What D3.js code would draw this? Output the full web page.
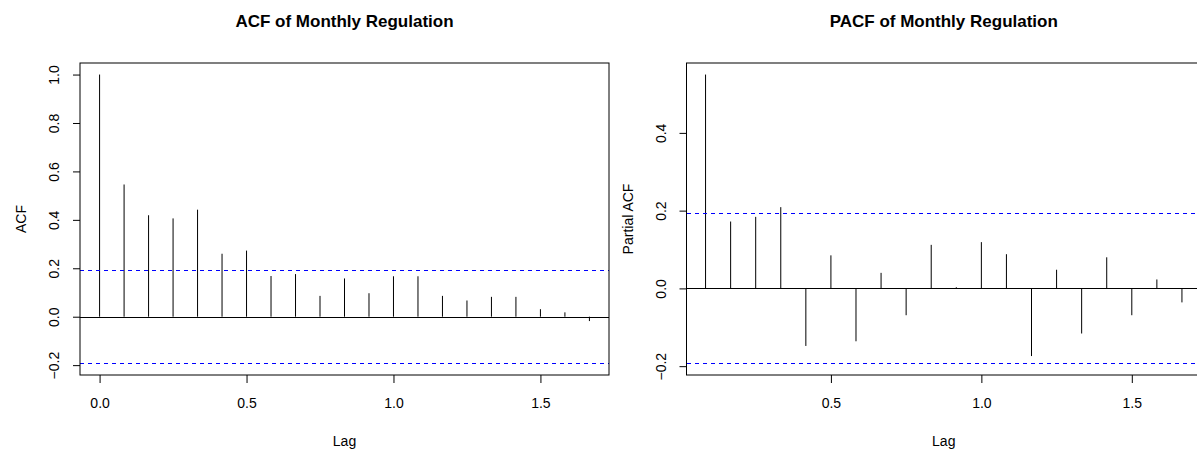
<!DOCTYPE html>
<html>
<head>
<meta charset="utf-8">
<script src="https://cdn.jsdelivr.net/npm/d3@7/dist/d3.min.js"></script>
<style>
  html, body { margin: 0; padding: 0; background: #fff; }
  svg { display: block; font-family: "Liberation Sans", Arial, sans-serif; }
</style>
</head>
<body>
<svg id="chart" width="1197" height="450"></svg>
<script>
// Monthly regulation series: sample autocorrelations, lags in years (frequency 12)
const acfLags = d3.range(0, 21).map(k => k / 12);
const acfValues = [1.000, 0.546, 0.419, 0.406, 0.442, 0.260, 0.273, 0.168, 0.176, 0.086,
                   0.158, 0.097, 0.167, 0.167, 0.086, 0.067, 0.082, 0.082, 0.031, 0.018, -0.018];

const pacfLags = d3.range(1, 21).map(k => k / 12);
const pacfValues = [0.550, 0.172, 0.184, 0.209, -0.148, 0.085, -0.136, 0.040, -0.069, 0.112,
                    0.003, 0.119, 0.088, -0.174, 0.048, -0.116, 0.080, -0.069, 0.023, -0.036];

// 95% confidence bound, +/- 1.96/sqrt(n)
const confBound = 0.193;

const acfYTicks = [-0.2, 0.0, 0.2, 0.4, 0.6, 0.8, 1.0];
const pacfYTicks = [-0.2, 0.0, 0.2, 0.4];
const acfXTicks = [0.0, 0.5, 1.0, 1.5];
const pacfXTicks = [0.5, 1.0, 1.5];

const svg = d3.select("#chart");
const fmt = d3.format(".1f");

// R-style range padded by 4% on each side
function padded(extent) {
  const pad = (extent[1] - extent[0]) * 0.04;
  return [extent[0] - pad, extent[1] + pad];
}

// snap a horizontal line to the pixel grid
const snap = v => Math.round(v) + 0.5;

function panel(opts) {
  const { left, right, top, bottom, lags, values, yTicks, xTicks, title, yLabel } = opts;
  const g = svg.append("g");

  const x = d3.scaleLinear().domain(padded(d3.extent(lags))).range([left, right]);
  const yExt = [Math.min(d3.min(values), -confBound), Math.max(d3.max(values), confBound)];
  const y = d3.scaleLinear().domain(padded(yExt)).range([bottom, top]);

  // spikes
  g.selectAll("line.spike").data(values).join("line")
    .attr("class", "spike")
    .attr("x1", (d, i) => x(lags[i])).attr("x2", (d, i) => x(lags[i]))
    .attr("y1", y(0)).attr("y2", d => y(d))
    .attr("stroke", "#000").attr("stroke-width", 1);

  // zero line
  g.append("line")
    .attr("x1", left).attr("x2", right)
    .attr("y1", snap(y(0))).attr("y2", snap(y(0)))
    .attr("stroke", "#000").attr("stroke-width", 1);

  // confidence bounds
  g.selectAll("line.ci").data([confBound, -confBound]).join("line")
    .attr("class", "ci")
    .attr("x1", left).attr("x2", right)
    .attr("y1", d => snap(y(d))).attr("y2", d => snap(y(d)))
    .attr("stroke", "#0000ff").attr("stroke-width", 1)
    .attr("stroke-dasharray", "4,4")
    .attr("shape-rendering", "crispEdges");

  // frame
  g.append("rect")
    .attr("x", left).attr("y", top)
    .attr("width", right - left).attr("height", bottom - top)
    .attr("fill", "none").attr("stroke", "#000").attr("stroke-width", 1);

  // y axis
  const ya = g.append("g").attr("transform", `translate(${left},0)`)
    .call(d3.axisLeft(y).tickValues(yTicks).tickFormat(fmt).tickSize(7).tickSizeOuter(0));
  ya.select(".domain").remove();
  ya.selectAll(".tick line").attr("stroke", "#000");
  ya.selectAll(".tick text")
    .attr("x", null).attr("dy", null)
    .attr("transform", "translate(-21,0) rotate(-90)")
    .attr("text-anchor", "middle")
    .attr("font-size", 14)
    .attr("font-family", "Liberation Sans, Arial, sans-serif")
    .attr("fill", "#000");

  // x axis
  const xa = g.append("g").attr("transform", `translate(0,${bottom})`)
    .call(d3.axisBottom(x).tickValues(xTicks).tickFormat(fmt).tickSize(8).tickSizeOuter(0));
  xa.select(".domain").remove();
  xa.selectAll(".tick line").attr("stroke", "#000");
  xa.selectAll(".tick text")
    .attr("y", 33).attr("dy", null)
    .attr("font-size", 14)
    .attr("font-family", "Liberation Sans, Arial, sans-serif")
    .attr("fill", "#000");

  const cx = (left + right) / 2;
  g.append("text").attr("x", cx).attr("y", 27)
    .attr("text-anchor", "middle").attr("font-size", 17).attr("font-weight", "bold")
    .text(title);
  g.append("text").attr("x", cx).attr("y", 446)
    .attr("text-anchor", "middle").attr("font-size", 14)
    .text("Lag");
  g.append("text")
    .attr("transform", `translate(${left - 54},${(top + bottom) / 2}) rotate(-90)`)
    .attr("text-anchor", "middle").attr("font-size", 14)
    .text(yLabel);
}

panel({
  left: 80, right: 609, top: 63, bottom: 375,
  lags: acfLags, values: acfValues, yTicks: acfYTicks, xTicks: acfXTicks,
  title: "ACF of Monthly Regulation", yLabel: "ACF"
});

panel({
  left: 686.5, right: 1201, top: 63, bottom: 375,
  lags: pacfLags, values: pacfValues, yTicks: pacfYTicks, xTicks: pacfXTicks,
  title: "PACF of Monthly Regulation", yLabel: "Partial ACF"
});
</script>
</body>
</html>
